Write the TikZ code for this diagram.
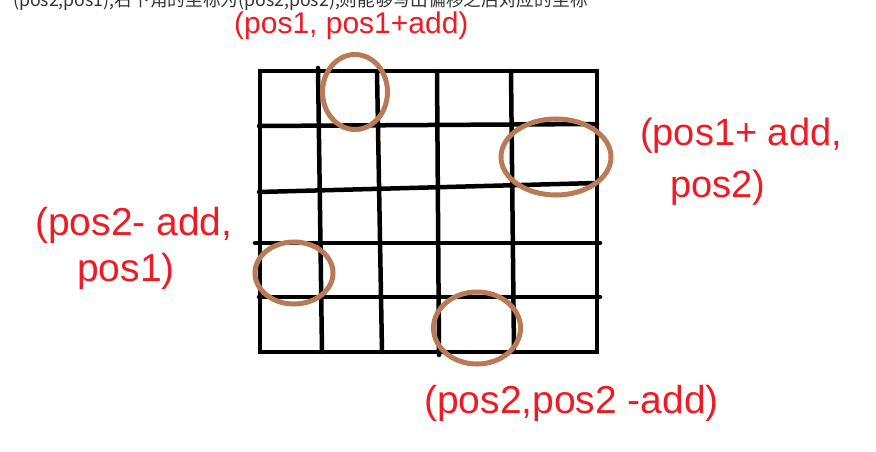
\documentclass[tikz,border=0pt]{standalone}
\usepackage{fontspec}
\setmainfont{Liberation Sans}
\newfontfamily\cjk{Noto Sans CJK SC}
\usetikzlibrary{shapes.geometric, positioning}
\definecolor{pen-red}{HTML}{ED1C24}
\definecolor{ring-brown}{HTML}{B97A57}
\definecolor{memo-gray}{HTML}{333333}

\begin{document}
\begin{tikzpicture}[x=1pt, y=-1pt]
				\tikzset{cell/.style={line width=4.5pt, black, line cap=round}}
				\tikzset{ring/.style={ellipse, draw=ring-brown, line width=5pt, inner sep=0pt}}
				\tikzset{note/.style={text=pen-red, inner sep=0pt, anchor=base west}}
				
				\useasboundingbox (0,0) rectangle (876,452);
				\clip (0,0) rectangle (876,452);
				\node[anchor=base west, text=memo-gray, inner sep=0pt] (memo) at (13,7) {\cjk\fontsize{17.7}{18}\selectfont (pos2,pos1),右下角的坐标为(pos2,pos2),则能够写出偏移之后对应的坐标};
				
				% the board
				\draw[cell] (260,71) rectangle (597,352);
				\draw[cell] (318,68) -- (322,352);
				\draw[cell] (377,71) -- (382,352);
				\draw[cell] (437,71) -- (439,355);
				\draw[cell] (511,71) -- (514,352);
				\draw[cell] (259,126) -- (597,124);
				\draw[cell] (259,192) -- (597,183);
				\draw[cell] (255,243) -- (600,243);
				\draw[cell] (259,297) -- (600,297);
				
				% circled cells
				\node[ring, minimum width=65pt, minimum height=75pt] (ringTop) at (355,92) {};
				\node[ring, minimum width=110pt, minimum height=76pt] (ringRight) at (556,157) {};
				\node[ring, minimum width=78pt, minimum height=62pt] (ringLeft) at (294,273) {};
				\node[ring, minimum width=87pt, minimum height=72pt] (ringBottom) at (477,328) {};
				
				% labels
				\node[note, font=\fontsize{30}{30}\selectfont] (labTop) at (234,34) {(pos1, pos1+add)};
				\node[note, font=\fontsize{38}{38}\selectfont] (labRight) at (640,145) {(pos1+ add,};
				\node[note, font=\fontsize{38}{38}\selectfont] (labRight2) at ([xshift=30pt, yshift=-52pt]labRight.base west) {pos2)};
				\node[note, font=\fontsize{39}{39}\selectfont] (labLeft) at (35,235) {(pos2- add,};
				\node[note, font=\fontsize{39}{39}\selectfont] (labLeft2) at ([xshift=42pt, yshift=-46pt]labLeft.base west) {pos1)};
				\node[note, font=\fontsize{39}{39}\selectfont] (labBottom) at (424,413) {(pos2,pos2 -add)};
\end{tikzpicture}
\end{document}
